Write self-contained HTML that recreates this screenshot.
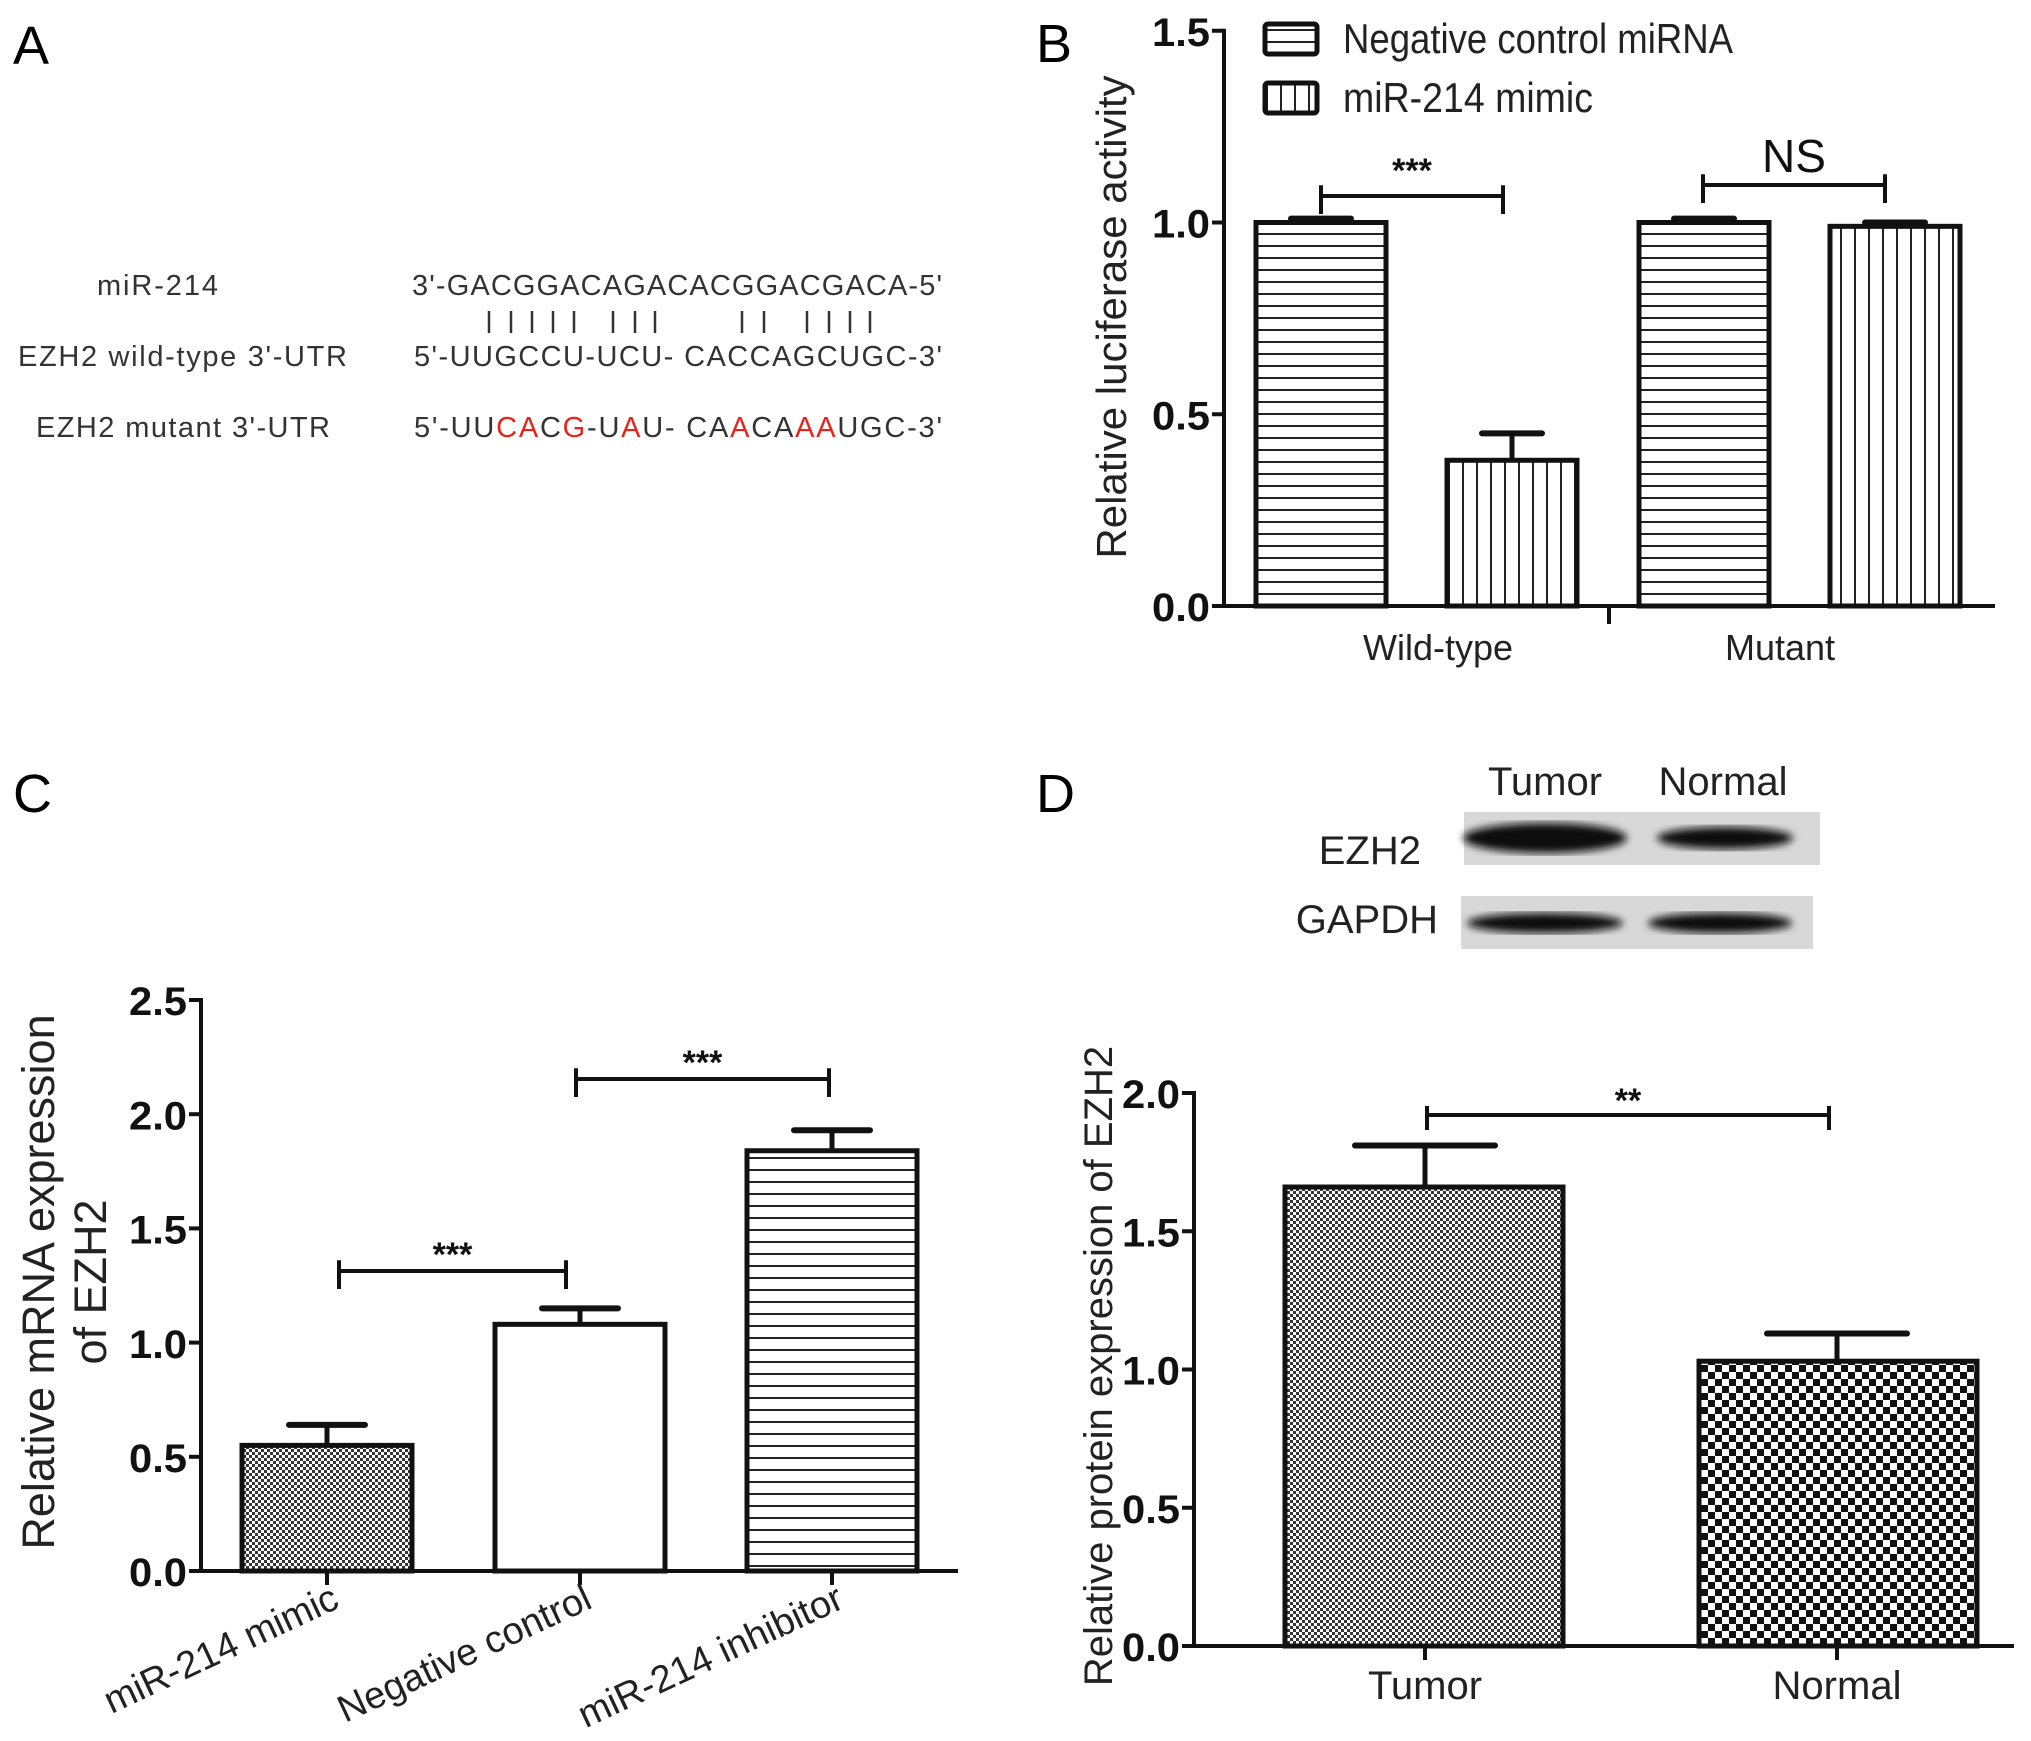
<!DOCTYPE html>
<html><head><meta charset="utf-8"><style>
html,body{margin:0;padding:0;background:#fff}
svg{display:block}
text{font-family:"Liberation Sans",Arial,sans-serif}
</style></head><body>
<svg id="fig" width="2031" height="1741" viewBox="0 0 2031 1741" xmlns="http://www.w3.org/2000/svg">
<defs>
<pattern id="hstripe" width="12" height="12" patternUnits="userSpaceOnUse"><rect width="12" height="12" fill="#fff"/><rect y="5" width="12" height="2" fill="#222"/></pattern>
<pattern id="vstripe" width="14" height="14" patternUnits="userSpaceOnUse"><rect width="14" height="14" fill="#fff"/><rect x="6" width="2" height="14" fill="#222"/></pattern>
<pattern id="finechk" width="6" height="6" patternUnits="userSpaceOnUse"><rect width="6" height="6" fill="#fff"/><rect width="3" height="3" fill="#333"/><rect x="3" y="3" width="3" height="3" fill="#333"/></pattern>
<pattern id="coarsechk" width="14" height="14" patternUnits="userSpaceOnUse"><rect width="14" height="14" fill="#fff"/><rect width="7" height="7" fill="#111"/><rect x="7" y="7" width="7" height="7" fill="#111"/></pattern>
<filter id="blur"><feGaussianBlur stdDeviation="4"/></filter>
</defs>

<!-- Panel A -->
<g>
<text x="13" y="64" font-size="54">A</text>
<text x="97" y="295" font-size="29" fill="#333" textLength="121">miR-214</text>
<text x="18" y="366" font-size="29" fill="#333" textLength="329">EZH2 wild-type 3'-UTR</text>
<text x="36" y="437" font-size="29" fill="#333" textLength="294">EZH2 mutant 3'-UTR</text>
<text x="412" y="295" font-size="29" fill="#333" textLength="530">3'-GACGGACAGACACGGACGACA-5'</text>
<text x="414" y="366" font-size="29" fill="#333" textLength="528">5'-UUGCCU-UCU- CACCAGCUGC-3'</text>
<text x="414" y="437" font-size="29" fill="#333" textLength="528">5'-UU<tspan fill="#e8231c">CA</tspan>C<tspan fill="#e8231c">G</tspan>-U<tspan fill="#e8231c">A</tspan>U- CA<tspan fill="#e8231c">A</tspan>CA<tspan fill="#e8231c">AA</tspan>UGC-3'</text>
<g id="pairs" stroke="#333" stroke-width="2.5"></g>
</g>

<g id="panelB"></g>
<g id="panelC"></g>
<g id="panelD"></g>
</svg>
<script>
// ---------- data ----------
const bGroups = ["Wild-type", "Mutant"];
const bSeries = ["Negative control miRNA", "miR-214 mimic"];
const bValues = [1.0, 0.38, 1.0, 0.99];
const bErrors = [0.01, 0.07, 0.01, 0.01];
const bTicks = ["0.0", "0.5", "1.0", "1.5"];

const cCategories = ["miR-214 mimic", "Negative control", "miR-214 inhibitor"];
const cValues = [0.55, 1.08, 1.84];
const cErrors = [0.09, 0.07, 0.09];
const cTicks = ["0.0", "0.5", "1.0", "1.5", "2.0", "2.5"];

const dCategories = ["Tumor", "Normal"];
const dValues = [1.66, 1.03];
const dErrors = [0.15, 0.10];
const dTicks = ["0.0", "0.5", "1.0", "1.5", "2.0"];

const NS = "http://www.w3.org/2000/svg";
function mk(parent, tag, attrs, txt) {
  const e = document.createElementNS(NS, tag);
  for (const k in attrs) e.setAttribute(k, attrs[k]);
  if (txt !== undefined) e.textContent = txt;
  parent.appendChild(e);
  return e;
}

const pairX = [489,511,532,553,574,613,635,655,742,764,807,829,850,870];
const pg = document.getElementById('pairs');
pairX.forEach(x => {
  const l = mk(pg, 'line', {x1:x, x2:x, y1:311, y2:333});
  
  
});

function axisY(g, x0, y0, pxPerUnit, ticks, step, fs) {
  const top = y0 - (ticks.length - 1) * step * pxPerUnit;
  const ax = mk(g, 'line', {x1:x0, x2:x0, y1:top - 2, y2:y0, stroke:'#111', 'stroke-width':4});
  
  
  ticks.forEach((t, i) => {
    const y = y0 - i * step * pxPerUnit;
    const tk = mk(g, 'line', {x1:x0 - 12, x2:x0, y1:y, y2:y, stroke:'#111', 'stroke-width':4});
    
    
    const tl = mk(g, 'text', {x:x0 - 14, y:y + fs * 0.38, 'font-size':fs, 'font-weight':'bold', 'text-anchor':'end', fill:'#111', textLength: fs * 1.45, lengthAdjust:'spacingAndGlyphs'}, t);
    
    
  });
}
function bar(g, x, w, y0, yv, fill) {
  const r = mk(g, 'rect', {x:x, y:yv, width:w, height:y0 - yv, fill:fill, stroke:'#111', 'stroke-width':5});
  
  
  return r;
}
function errbar(g, cx, yv, ye, hw) {
  const e1 = mk(g, 'line', {x1:cx, x2:cx, y1:yv, y2:ye, stroke:'#111', 'stroke-width':5});
  
  
  const e2 = mk(g, 'line', {x1:cx - hw, x2:cx + hw, y1:ye, y2:ye, stroke:'#111', 'stroke-width':6, 'stroke-linecap':'round'});
  
  
}
function bracket(g, x1, x2, y, drop, label, ly, fs, bold) {
  const p = mk(g, 'path', {d:`M${x1},${y + drop} V${y - drop * 0.6} M${x1},${y} H${x2} M${x2},${y + drop} V${y - drop * 0.6}`, stroke:'#111', 'stroke-width':4, fill:'none'});
  
  
  const t = mk(g, 'text', {x:(x1 + x2) / 2, y:ly, 'font-size':fs, 'text-anchor':'middle', fill:'#111', 'font-weight':bold ? 'bold' : 'normal'}, label);
  
  
}

// ---------- Panel B ----------
(function(){
  const g = document.getElementById('panelB');
  const x0 = 1224, y0 = 606, ppu = 383.5;
  const Y = v => y0 - v * ppu;
  const lab = mk(g, 'text', {x:1036, y:62, 'font-size':54}, 'B');
  
  
  axisY(g, x0, y0, ppu, bTicks, 0.5, 40);
  const xa = mk(g, 'line', {x1:x0, x2:1995, y1:y0, y2:y0, stroke:'#111', 'stroke-width':4});
  
  
  const sep = mk(g, 'line', {x1:1609, x2:1609, y1:y0, y2:y0 + 18, stroke:'#111', 'stroke-width':4});
  
  
  const bx = [1256, 1447, 1639, 1830], bw = 130;
  bValues.forEach((v, i) => {
    bar(g, bx[i], bw, y0, Y(v), i % 2 === 0 ? 'url(#hstripe)' : 'url(#vstripe)');
    errbar(g, bx[i] + bw / 2, Y(v), Y(v + bErrors[i]), 30);
  });
  const gc = [1438, 1780];
  bGroups.forEach((n, i) => {
    const t = mk(g, 'text', {x:gc[i], y:660, 'font-size':36, 'text-anchor':'middle', fill:'#222'}, n);
    
    
  });
  bracket(g, 1321, 1503, 196, 18, '***', 182, 34, true);
  bracket(g, 1703, 1885, 185, 18, 'NS', 172, 46, false);
  const yt = mk(g, 'text', {x:0, y:0, 'font-size':42, 'text-anchor':'middle', fill:'#222', transform:'translate(1126,317) rotate(-90)'}, 'Relative luciferase activity');
  
  
  const fills = ['url(#hstripe)', 'url(#vstripe)'];
  const ly = [39, 98];
  bSeries.forEach((s, i) => {
    const r = mk(g, 'rect', {x:1265, y:ly[i] - 15, width:52, height:30, fill:fills[i], stroke:'#111', 'stroke-width':5, rx:3});
    
    
    const t = mk(g, 'text', {x:1343, y:ly[i] + 14, 'font-size':42, fill:'#222', textLength: i === 0 ? 390 : 250, lengthAdjust:'spacingAndGlyphs'}, s);
    
    
  });
})();

// ---------- Panel C ----------
(function(){
  const g = document.getElementById('panelC');
  const x0 = 201, y0 = 1571, ppu = 228.4;
  const Y = v => y0 - v * ppu;
  const lab = mk(g, 'text', {x:13, y:812, 'font-size':54}, 'C');
  
  
  axisY(g, x0, y0, ppu, cTicks, 0.5, 40);
  const xa = mk(g, 'line', {x1:x0, x2:958, y1:y0, y2:y0, stroke:'#111', 'stroke-width':4});
  
  
  const bx = [242, 495, 747], bw = 170;
  const fills = ['url(#finechk)', '#fff', 'url(#hstripe)'];
  cValues.forEach((v, i) => {
    bar(g, bx[i], bw, y0, Y(v), fills[i]);
    errbar(g, bx[i] + bw / 2, Y(v), Y(v + cErrors[i]), 38);
    const cx = bx[i] + bw / 2;
    const tk = mk(g, 'line', {x1:cx, x2:cx, y1:y0, y2:y0 + 14, stroke:'#111', 'stroke-width':4});
    
    
    const t = mk(g, 'text', {x:0, y:0, 'font-size':38, 'text-anchor':'end', fill:'#222', transform:`translate(${cx + 14},${y0 + 36}) rotate(-25)`}, cCategories[i]);
    
    
  });
  bracket(g, 339, 566, 1271, 18, '***', 1266, 34, true);
  bracket(g, 576, 829, 1079, 18, '***', 1074, 34, true);
  const yt = mk(g, 'text', {x:0, y:0, 'font-size':45, 'text-anchor':'middle', fill:'#222', transform:'translate(54,1282) rotate(-90)'}, 'Relative mRNA expression');
  
  
  const yt2 = mk(g, 'text', {x:0, y:0, 'font-size':45, 'text-anchor':'middle', fill:'#222', transform:'translate(106,1282) rotate(-90)'}, 'of EZH2');
  
  
})();

// ---------- Panel D ----------
(function(){
  const g = document.getElementById('panelD');
  const x0 = 1194, y0 = 1646, ppu = 276.5;
  const Y = v => y0 - v * ppu;
  const lab = mk(g, 'text', {x:1036, y:812, 'font-size':54}, 'D');
  
  
  const blots = [[1464, 812, 356, 53, 'EZH2', 1421, 864, [[1545, 838, 82, 15], [1725, 838, 68, 11]]],
                 [1461, 896, 352, 53, 'GAPDH', 1438, 933, [[1545, 923, 78, 10], [1720, 923, 72, 10]]]];
  blots.forEach(b => {
    const r = mk(g, 'rect', {x:b[0], y:b[1], width:b[2], height:b[3], fill:'#d8d8d8'});
    
    
    b[7].forEach(e => {
      const el = mk(g, 'ellipse', {cx:e[0], cy:e[1], rx:e[2], ry:e[3], fill:'#111', filter:'url(#blur)'});
      
      
    });
    const t = mk(g, 'text', {x:b[5], y:b[6], 'font-size':40, 'text-anchor':'end', fill:'#222'}, b[4]);
    
    
  });
  [['Tumor', 1545], ['Normal', 1723]].forEach(l => {
    const t = mk(g, 'text', {x:l[1], y:795, 'font-size':40, 'text-anchor':'middle', fill:'#222'}, l[0]);
    
    
  });
  axisY(g, x0, y0, ppu, dTicks, 0.5, 40);
  const xa = mk(g, 'line', {x1:x0, x2:2014, y1:y0, y2:y0, stroke:'#111', 'stroke-width':4});
  
  
  const bx = [1285, 1699], bw = 278;
  const fills = ['url(#finechk)', 'url(#coarsechk)'];
  dValues.forEach((v, i) => {
    bar(g, bx[i], bw, y0, Y(v), fills[i]);
    const cx = i === 0 ? 1425 : 1837;
    errbar(g, cx, Y(v), Y(v + dErrors[i]), 70);
    const tk = mk(g, 'line', {x1:cx, x2:cx, y1:y0, y2:y0 + 14, stroke:'#111', 'stroke-width':4});
    
    
    const t = mk(g, 'text', {x:cx, y:1699, 'font-size':40, 'text-anchor':'middle', fill:'#222'}, dCategories[i]);
    
    
  });
  bracket(g, 1427, 1829, 1115, 15, '**', 1112, 34, true);
  const yt = mk(g, 'text', {x:0, y:0, 'font-size':40, 'text-anchor':'middle', fill:'#222', transform:'translate(1112,1366) rotate(-90)'}, 'Relative protein expression of EZH2');
  
  
})();
</script>
</body></html>
